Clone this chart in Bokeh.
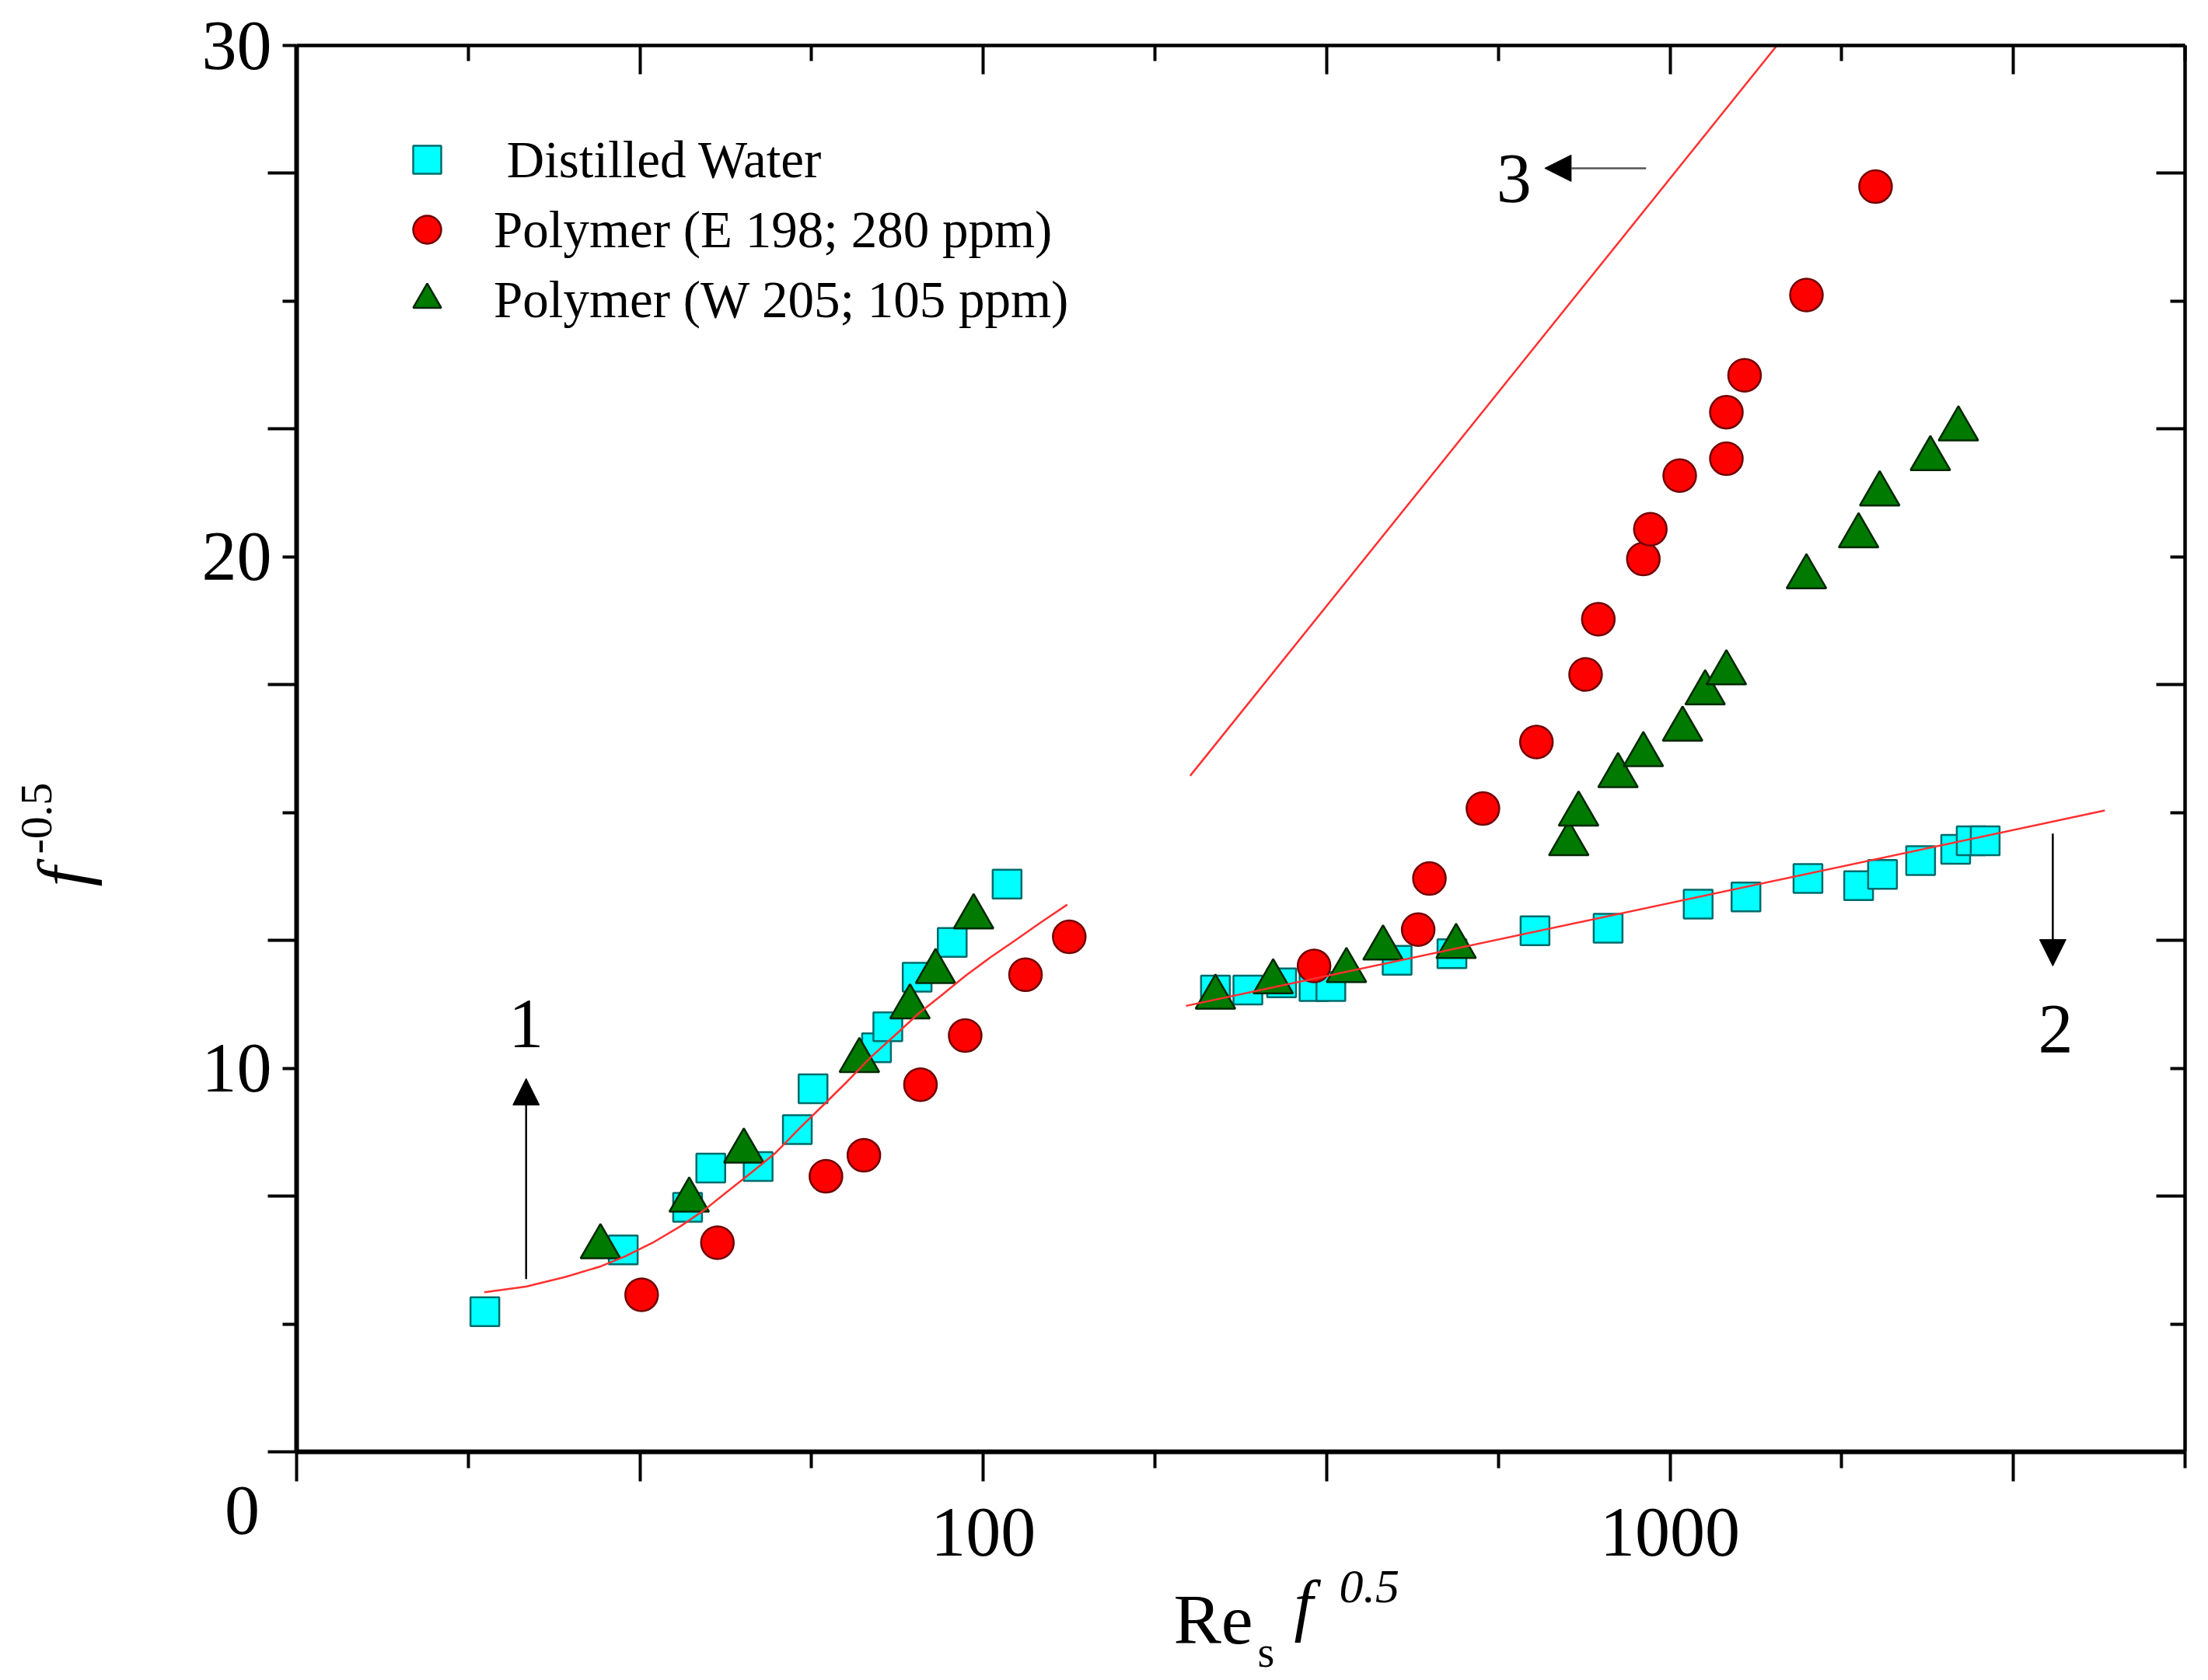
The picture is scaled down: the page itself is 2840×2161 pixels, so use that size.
import math
from bokeh.plotting import figure
from bokeh.models import (Range1d, LogAxis, LinearAxis, FixedTicker, CustomJSTickFormatter,
                          Label, Arrow, NormalHead, Legend, LegendItem, GridBox)
from bokeh.core.properties import value
from bokeh.embed import file_html
from bokeh.resources import INLINE

FONT = "Liberation Serif"

# ---------------- data ----------------
water_x = [18.8, 29.9, 37.1, 40.1, 47.0, 53.6, 56.5, 69.9, 72.6, 80.1, 90.1, 108.3,
           217.8, 242.8, 271.9, 303.1, 320.7, 400.5, 481.3, 635.9, 812.5, 1099, 1290,
           1588, 1882, 2039, 2317, 2606, 2745, 2877]
water_y = [5.24, 6.45, 7.28, 8.05, 8.08, 8.80, 9.60, 10.40, 10.81, 11.78, 12.46, 13.60,
           11.53, 11.53, 11.67, 11.60, 11.60, 12.11, 12.24, 12.69, 12.74, 13.21, 13.35,
           13.71, 13.57, 13.79, 14.06, 14.28, 14.45, 14.45]

e198_x = [31.8, 41.0, 59.0, 67.0, 81.0, 94.1, 115.2, 133.4, 303.1, 429.8, 446.3, 534.0,
          638.9, 753.4, 786.3, 914.4, 936.1, 1033, 1208, 1208, 1284, 1580, 1992]
e198_y = [5.57, 6.59, 7.89, 8.30, 9.68, 10.64, 11.83, 12.57, 12.00, 12.71, 13.71, 15.08,
          16.38, 17.70, 18.78, 19.96, 20.54, 21.59, 21.92, 22.83, 23.55, 25.12, 27.24]

w205_x = [27.7, 37.3, 44.8, 66.0, 78.2, 85.2, 96.8, 217.8, 264.3, 337.9, 382.0, 488.1,
          712.1, 735.9, 840.0, 914.4, 1043, 1125, 1208, 1580, 1882, 2020, 2394, 2630]
w205_y = [6.51, 7.42, 8.38, 10.15, 11.20, 11.89, 12.96, 11.39, 11.69, 11.91, 12.35, 12.38,
          14.39, 14.97, 15.72, 16.13, 16.63, 17.34, 17.73, 19.61, 20.41, 21.23, 21.92, 22.50]

curve1_x = [18.76, 21.57, 24.64, 27.77, 30.08, 33.01, 36.22, 39.25, 42.49, 46.03, 49.86,
            54.02, 58.48, 63.35, 68.61, 74.29, 80.47, 87.15, 94.41, 102.2, 110.7, 121.5, 132.5]
curve1_y = [5.62, 5.73, 5.92, 6.13, 6.32, 6.59, 6.91, 7.23, 7.60, 7.97, 8.35,
            8.83, 9.28, 9.74, 10.22, 10.64, 11.07, 11.44, 11.82, 12.16, 12.48, 12.86, 13.20]

line2_x = [197.3, 4297]
line2_y = [11.22, 15.04]

line3_x = [200.1, 1431]
line3_y = [15.72, 30.0]

legend_labels = [" Distilled Water", "Polymer (E 198; 280 ppm)", "Polymer (W 205; 105 ppm)"]

x_major = [10, 31.6227766, 100, 316.227766, 1000, 3162.27766]
x_minor = [17.7827941, 56.2341325, 177.827941, 562.341325, 1778.27941, 5623.41325]
y_major = [5, 10, 15, 20, 25, 30]
y_minor = [2.5, 7.5, 12.5, 17.5, 22.5, 27.5]

# ---------------- layout sizes ----------------
BL, BR, BT, BB = 381, 14, 58, 285
FW, FH = 2429, 1809
W, H = BL + FW + BR, BT + FH + BB

# ---------------- main figure ----------------
p = figure(x_axis_type="log", x_range=Range1d(10, 5623.41325), y_range=Range1d(2.5, 30),
           frame_width=FW, frame_height=FH,
           min_border_left=BL, min_border_right=BR, min_border_top=BT, min_border_bottom=BB,
           output_backend="svg", toolbar_location=None, title=None)
p.outline_line_color = None
p.grid.visible = False
p.background_fill_color = "white"
p.border_fill_color = "white"

xt = FixedTicker(ticks=x_major, minor_ticks=x_minor)
yt = FixedTicker(ticks=y_major, minor_ticks=y_minor)

xfmt = CustomJSTickFormatter(code="""
if (Math.abs(tick - 100) < 1e-6) return '100';
if (Math.abs(tick - 1000) < 1e-6) return '1000';
return '';""")
yfmt = CustomJSTickFormatter(code="""
return (Math.abs(tick % 10) < 1e-9) ? tick.toFixed(0) : '';""")
blank = CustomJSTickFormatter(code="return '';")

xa = p.xaxis[0]
xa.ticker = xt
xa.formatter = xfmt
xa.axis_line_width = 6
xa.major_tick_out = 38
xa.major_tick_in = 0
xa.minor_tick_out = 21
xa.minor_tick_in = 0
xa.major_tick_line_width = 4
xa.minor_tick_line_width = 4
xa.major_label_text_font = FONT
xa.major_label_text_font_size = "90px"
xa.major_label_standoff = 35
xa.major_label_text_color = "black"

ya = p.yaxis[0]
ya.ticker = yt
ya.formatter = yfmt
ya.axis_line_width = 6
ya.major_tick_out = 18
ya.major_tick_in = 0
ya.minor_tick_out = 37
ya.minor_tick_in = 0
ya.major_tick_line_width = 4
ya.minor_tick_line_width = 4
ya.major_label_text_font = FONT
ya.major_label_text_font_size = "90px"
ya.major_label_standoff = -5
ya.major_label_text_color = "black"

top = LogAxis(ticker=xt, formatter=blank, axis_line_width=4.5,
              major_tick_in=37, major_tick_out=0, minor_tick_in=20, minor_tick_out=0,
              major_tick_line_width=4, minor_tick_line_width=4,
              major_label_text_font_size="0px", major_label_standoff=0)
p.add_layout(top, "above")

right = LinearAxis(ticker=yt, formatter=blank, axis_line_width=4.5,
                   major_tick_in=19, major_tick_out=0, minor_tick_in=37, minor_tick_out=0,
                   major_tick_line_width=4, minor_tick_line_width=4,
                   major_label_text_font_size="0px", major_label_standoff=0)
p.add_layout(right, "right")

# ---------------- data marks ----------------
r_w = p.scatter(water_x, water_y, marker="square", size=37, fill_color="#00FFFF",
                line_color="#006B6B", line_width=2.5)
r_e = p.scatter(e198_x, e198_y, marker="circle", size=42, fill_color="#FF0000",
                line_color="#700000", line_width=2.5)
r_t = p.scatter(w205_x, w205_y, marker="triangle", size=51, fill_color="#007A00",
                line_color="#002800", line_width=2.5)

for lx, ly in ((curve1_x, curve1_y), (line2_x, line2_y), (line3_x, line3_y)):
    p.line(lx, ly, line_color="#FF3030", line_width=2.5)

legend = Legend(items=[LegendItem(label=legend_labels[0], renderers=[r_w]),
                       LegendItem(label=legend_labels[1], renderers=[r_e]),
                       LegendItem(label=legend_labels[2], renderers=[r_t])],
                location=(123, 1437), glyph_width=90, glyph_height=90, spacing=0,
                padding=0, margin=0, label_standoff=41,
                label_text_font=FONT, label_text_font_size="67px", label_text_color="black",
                border_line_color=None, background_fill_alpha=0)
p.add_layout(legend)

# ---------------- annotations inside the frame ----------------
def head():
    return NormalHead(size=34, fill_color="black", line_color="black", line_width=1)

p.add_layout(Arrow(end=head(), x_start=21.59, y_start=5.88, x_end=21.59, y_end=9.80,
                   line_color="black", line_width=2.5))
p.add_layout(Arrow(end=head(), x_start=3609, y_start=14.59, x_end=3609, y_end=12.0,
                   line_color="black", line_width=2.5))
p.add_layout(Arrow(end=head(), x_start=923, y_start=27.60, x_end=657, y_end=27.60,
                   line_color="#555555", line_width=2.5))

for txt, tx, ty in (("1", 21.59, 10.87), ("2", 3643, 10.76), ("3", 592.3, 27.40)):
    p.add_layout(Label(x=tx, y=ty, text=txt, text_font=FONT, text_font_size="90px",
                       text_align="center", text_baseline="middle", text_color="black"))

# ---------------- transparent overlay for texts outside the frame ----------------
ov = figure(width=W, height=H, x_range=Range1d(0, W), y_range=Range1d(0, H),
            x_axis_location=None, y_axis_location=None, title=None,
            min_border_left=0, min_border_right=0, min_border_top=0, min_border_bottom=0,
            output_backend="svg", toolbar_location=None)
ov.grid.visible = False
ov.outline_line_color = None
ov.background_fill_alpha = 0
ov.border_fill_alpha = 0

# do not let the grid layout align the overlay's frame with the main frame
for fig in (p, ov):
    try:
        fig.frame_align = False
    except AttributeError:
        pass


def otext(px, py, s, size, italic=False, align="left", angle=0.0):
    ov.text(x=[px], y=[H - py], text=[s], text_font=value(FONT), text_font_size=size,
            text_font_style="italic" if italic else "normal", text_align=align,
            text_baseline="middle", angle=angle, text_color="black")


# stray origin label
otext(311, 1942, "0", "90px", align="center")
# x-axis title: Re_s f^0.5
otext(1509, 2082, "Re", "92px")
otext(1617, 2124, "s", "56px")
otext(1664, 2064, "f", "88px", italic=True)
otext(1722, 2040, "0.5", "62px", italic=True)
# y-axis title: f^-0.5 (rotated)
otext(80, 1140, "f", "92px", italic=True, angle=math.pi / 2)
otext(46, 1098, "-0.5", "58px", angle=math.pi / 2)

layout = GridBox(children=[(p, 0, 0), (ov, 0, 0)])

open("out.html", "w").write(file_html(layout, INLINE))
